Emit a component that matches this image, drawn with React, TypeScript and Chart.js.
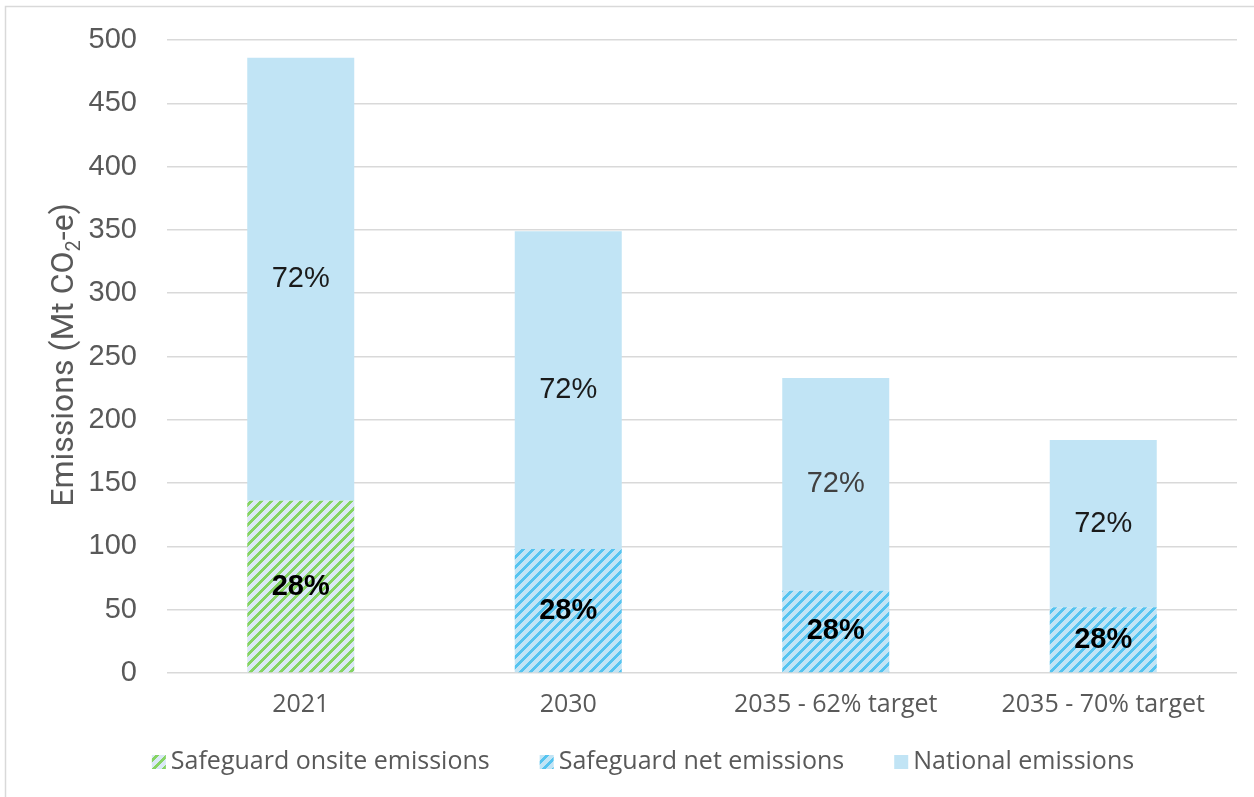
import { useEffect, useRef } from "react";
import { Chart, registerables } from "chart.js";

Chart.register(...registerables);

// Categories and stacked values (Mt CO2-e)
const categories = ["2021", "2030", "2035 - 62% target", "2035 - 70% target"];
const safeguardOnsite: (number | null)[] = [136, null, null, null];
const safeguardNet: (number | null)[] = [null, 98, 65, 52];
const nationalRemainder: number[] = [350, 251, 168, 132];
const nationalLabelColors = ["#1a1a1a", "#1a1a1a", "#404040", "#1a1a1a"];

const Y_MIN = 0;
const Y_MAX = 500;
const Y_STEP = 50;

const TEXT_GREY = "#595959";
const GRID_GREY = "#D9D9D9";
const NATIONAL_BLUE = "#C1E4F5";

// Wide upward-diagonal hatch built on a small tile
function makeHatch(ctx: CanvasRenderingContext2D, stripe: string, ground: string) {
  const tile = document.createElement("canvas");
  tile.width = 10;
  tile.height = 10;
  const g = tile.getContext("2d")!;
  g.fillStyle = ground;
  g.fillRect(0, 0, 10, 10);
  g.fillStyle = stripe;
  for (let y = 0; y < 10; y++) {
    for (let x = 0; x < 10; x++) {
      if ((x + y) % 10 < 4) g.fillRect(x, y, 1, 1);
    }
  }
  return ctx.createPattern(tile, "repeat")!;
}

const frameBorder = {
  id: "frameBorder",
  beforeDraw(chart: Chart) {
    const { ctx } = chart;
    ctx.save();
    ctx.fillStyle = "#ffffff";
    ctx.fillRect(0, 0, chart.width, chart.height);
    ctx.strokeStyle = GRID_GREY;
    ctx.lineWidth = 1.5;
    ctx.strokeRect(5.5, 6.5, chart.width + 20, chart.height + 20);
    ctx.restore();
  },
};

const segmentLabels = {
  id: "segmentLabels",
  afterDatasetsDraw(chart: Chart) {
    const { ctx } = chart;
    const datasets = chart.data.datasets;
    const totals = categories.map((_, i) =>
      datasets.reduce((s, d) => s + ((d.data[i] as number | null) ?? 0), 0)
    );
    ctx.save();
    ctx.textAlign = "center";
    ctx.textBaseline = "middle";
    datasets.forEach((ds, di) => {
      const meta = chart.getDatasetMeta(di);
      const isSafeguard = di < 2;
      meta.data.forEach((el, i) => {
        const v = ds.data[i] as number | null;
        if (v == null) return;
        const pct = Math.round((v / totals[i]) * 100) + "%";
        const p = el.getProps(["x", "y", "base"], true) as any;
        ctx.font = `${isSafeguard ? "bold " : ""}29px "Liberation Sans", Arial, sans-serif`;
        ctx.fillStyle = isSafeguard ? "#000000" : nationalLabelColors[i];
        ctx.fillText(pct, p.x, (p.y + p.base) / 2);
      });
    });
    ctx.restore();
  },
};

const yTitle = {
  id: "yTitle",
  afterDraw(chart: Chart) {
    const { ctx } = chart;
    const size = 32;
    const subSize = 20;
    const main = `${size}px Roboto, sans-serif`;
    const sub = `${subSize}px Roboto, sans-serif`;
    const a = "Emissions (Mt CO";
    const b = "2";
    const c = "-e)";
    ctx.save();
    ctx.font = main;
    const wa = ctx.measureText(a).width;
    const wc = ctx.measureText(c).width;
    ctx.font = sub;
    const wb = ctx.measureText(b).width;
    const total = wa + wb + wc;
    ctx.translate(62, 355);
    ctx.rotate(-Math.PI / 2);
    ctx.fillStyle = TEXT_GREY;
    ctx.textBaseline = "alphabetic";
    ctx.textAlign = "left";
    const base = 11;
    let x = -total / 2;
    ctx.font = main;
    ctx.fillText(a, x, base);
    x += wa;
    ctx.font = sub;
    ctx.fillText(b, x, base + 7);
    x += wb;
    ctx.font = main;
    ctx.fillText(c, x, base);
    ctx.restore();
  },
};

const bottomLegend = {
  id: "bottomLegend",
  afterDraw(chart: Chart) {
    const { ctx } = chart;
    const font = `25px "Open Sans", sans-serif`;
    const box = 14;
    const boxGap = 5;
    const itemGap = 50;
    const cy = 762;
    const centerX = 643;
    ctx.save();
    ctx.font = font;
    const items = chart.data.datasets.map((d) => ({
      label: d.label as string,
      fill: d.backgroundColor as any,
      w: ctx.measureText(d.label as string).width,
    }));
    const totalW =
      items.reduce((s, it) => s + box + boxGap + it.w, 0) + itemGap * (items.length - 1);
    let x = centerX - totalW / 2;
    ctx.textBaseline = "middle";
    ctx.textAlign = "left";
    items.forEach((it) => {
      ctx.fillStyle = it.fill;
      ctx.fillRect(x, cy - box / 2, box, box);
      x += box + boxGap;
      ctx.fillStyle = TEXT_GREY;
      ctx.fillText(it.label, x, cy);
      x += it.w + itemGap;
    });
    ctx.restore();
  },
};

export default function App() {
  const canvasRef = useRef<HTMLCanvasElement | null>(null);

  useEffect(() => {
    const canvas = canvasRef.current;
    if (!canvas) return;
    const ctx = canvas.getContext("2d")!;
    const greenHatch = makeHatch(ctx, "#86D463", "#DAE8F6");
    const blueHatch = makeHatch(ctx, "#55C4F0", NATIONAL_BLUE);

    const chart = new Chart(ctx, {
      type: "bar",
      data: {
        labels: categories,
        datasets: [
          {
            label: "Safeguard onsite emissions",
            data: safeguardOnsite,
            backgroundColor: greenHatch,
            borderWidth: 0,
          },
          {
            label: "Safeguard net emissions",
            data: safeguardNet,
            backgroundColor: blueHatch,
            borderWidth: 0,
          },
          {
            label: "National emissions",
            data: nationalRemainder,
            backgroundColor: NATIONAL_BLUE,
            borderWidth: 0,
          },
        ],
      },
      options: {
        responsive: false,
        animation: false,
        devicePixelRatio: 1,
        layout: { padding: { top: 40, right: 17, left: 0, bottom: 0 } },
        datasets: {
          bar: { categoryPercentage: 1, barPercentage: 0.4 },
        },
        plugins: {
          legend: { display: false },
          tooltip: { enabled: false },
          title: { display: false },
        },
        scales: {
          x: {
            stacked: true,
            grid: { display: false, drawTicks: false },
            border: { display: false },
            ticks: {
              color: TEXT_GREY,
              font: { family: '"Open Sans", sans-serif', size: 25 },
              padding: 17,
              maxRotation: 0,
              autoSkip: false,
            },
            afterFit(scale: any) {
              scale.height = 124;
            },
          },
          y: {
            stacked: true,
            min: Y_MIN,
            max: Y_MAX,
            grid: {
              color: GRID_GREY,
              lineWidth: 1.5,
              drawTicks: true,
              tickLength: 22,
              tickColor: "rgba(0,0,0,0)",
            },
            border: { display: false },
            ticks: {
              stepSize: Y_STEP,
              color: TEXT_GREY,
              font: { family: '"Liberation Sans", Arial, sans-serif', size: 29 },
              padding: 8,
            },
            afterFit(scale: any) {
              scale.width = 167;
            },
          },
        },
      },
      plugins: [frameBorder, segmentLabels, yTitle, bottomLegend],
    });

    return () => chart.destroy();
  }, []);

  return (
    <div style={{ position: "absolute", left: 0, top: 0, width: 1254, height: 797 }}>
      <canvas ref={canvasRef} width={1254} height={797} style={{ display: "block" }} />
    </div>
  );
}
